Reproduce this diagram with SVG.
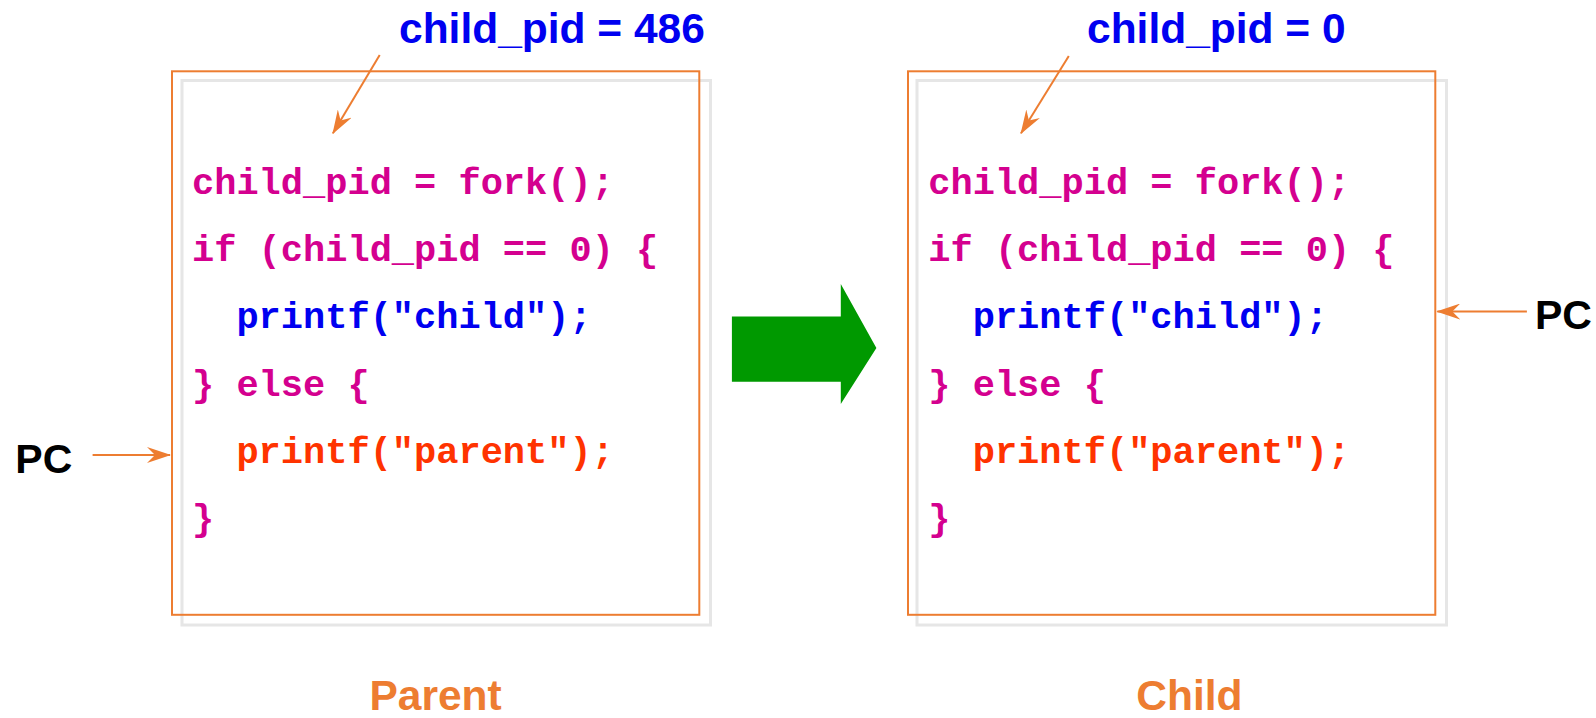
<svg xmlns="http://www.w3.org/2000/svg" width="1596" height="718" viewBox="0 0 1596 718">
<style>
.shadow{fill:none;stroke:#E6E6E6;stroke-width:3}
.box{fill:none;stroke:#ED7D31;stroke-width:2}
.code{font-family:"Liberation Mono","Courier New",monospace;font-weight:bold;font-size:37px}
.m{fill:#D4008F}
.b{fill:#0000F0}
.r{fill:#FF3300}
.lbl{font-family:"Liberation Sans",Arial,sans-serif;font-weight:bold;font-size:42.5px}
.pc{font-family:"Liberation Sans",Arial,sans-serif;font-weight:bold;font-size:41px;fill:#000000}
.ptr{stroke:#ED7D31;stroke-width:2;fill:none;marker-end:url(#ah)}
</style>
<defs>
<marker id="ah" viewBox="0 0 24 16" refX="23" refY="8" markerWidth="24" markerHeight="16" markerUnits="userSpaceOnUse" orient="auto">
<path d="M0,0 L24,8 L0,16 L8,8 Z" fill="#ED7D31"/>
</marker>
</defs>
<rect width="1596" height="718" fill="#FFFFFF"/>
<g id="parent">
<rect class="shadow" x="182" y="80.5" width="528.5" height="544.5"/>
<rect class="box" x="172" y="71.3" width="527.3" height="543.5"/>
<text class="code" xml:space="preserve"><tspan class="m" x="192" y="194">child_pid = fork();</tspan><tspan class="m" x="192" y="261.2">if (child_pid == 0) {</tspan><tspan class="b" x="192" y="328.4">  printf("child");</tspan><tspan class="m" x="192" y="395.6">} else {</tspan><tspan class="r" x="192" y="462.8">  printf("parent");</tspan><tspan class="m" x="192" y="530">}</tspan></text>
<text class="lbl" x="435.6" y="710" text-anchor="middle" fill="#ED7D31">Parent</text>
</g>
<g id="child">
<rect class="shadow" x="917" y="80.5" width="529.5" height="544.5"/>
<rect class="box" x="908" y="71.3" width="527.3" height="543.5"/>
<text class="code" xml:space="preserve"><tspan class="m" x="928.3" y="194">child_pid = fork();</tspan><tspan class="m" x="928.3" y="261.2">if (child_pid == 0) {</tspan><tspan class="b" x="928.3" y="328.4">  printf("child");</tspan><tspan class="m" x="928.3" y="395.6">} else {</tspan><tspan class="r" x="928.3" y="462.8">  printf("parent");</tspan><tspan class="m" x="928.3" y="530">}</tspan></text>
<text class="lbl" x="1189.4" y="710" text-anchor="middle" fill="#ED7D31">Child</text>
</g>
<g id="labels">
<text class="lbl" x="399" y="43" fill="#0000F0">child_pid = 486</text>
<text class="lbl" x="1087" y="43" fill="#0000F0">child_pid = 0</text>
<text class="pc" x="15.3" y="473">PC</text>
<text class="pc" x="1535" y="329">PC</text>
</g>
<g id="fork-arrow">
<polygon points="731.9,316.6 840.8,316.6 840.8,284 876.4,348.1 840.8,404.1 840.8,381.7 731.9,381.7" fill="#009900"/>
</g>
<g id="connectors">
<line class="ptr" x1="379.7" y1="55" x2="332.9" y2="133.3"/>
<line class="ptr" x1="1068.8" y1="56" x2="1021" y2="133.3"/>
<line class="ptr" x1="92.6" y1="455" x2="170" y2="455"/>
<line class="ptr" x1="1526.9" y1="311.5" x2="1437.3" y2="311.5"/>
</g>
</svg>
